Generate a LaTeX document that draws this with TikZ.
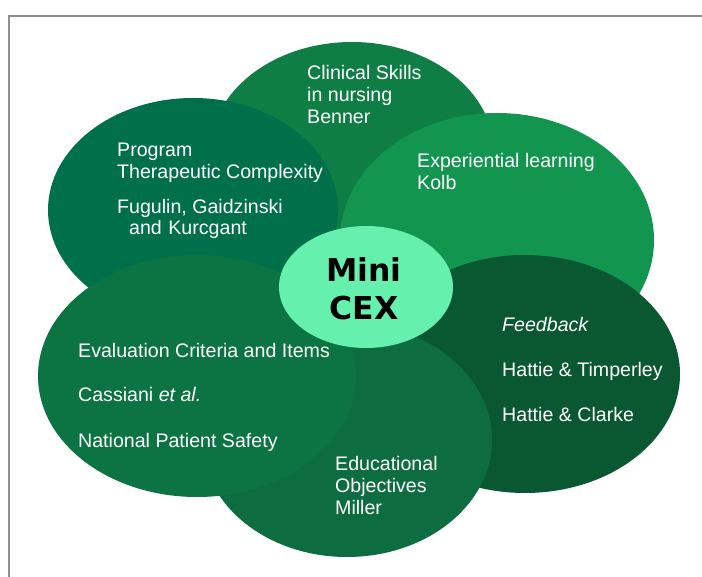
\documentclass[tikz,border=0pt]{standalone}
\usepackage{fontspec}
\setmainfont{Liberation Sans}
\newfontfamily\cexfont{DejaVu Sans}
\usetikzlibrary{shapes.geometric}

\definecolor{clinGreen}{HTML}{0F7E45}
\definecolor{progGreen}{HTML}{00704B}
\definecolor{expGreen}{HTML}{11954F}
\definecolor{fbGreen}{HTML}{0A5832}
\definecolor{eduGreen}{HTML}{0D6D40}
\definecolor{evalGreen}{HTML}{0C7342}
\definecolor{cexGreen}{HTML}{66F0AE}
\definecolor{frameGray}{HTML}{8F8F8F}

\tikzset{
  petal/.style={ellipse, draw=none, inner sep=0pt},
  lbl/.style={anchor=base west, inner sep=0pt, text=white,
              font=\fontsize{19.6}{22}\selectfont},
  cex/.style={anchor=base, inner sep=0pt, text=black,
              font=\cexfont\bfseries\fontsize{31.5}{38}\selectfont}
}

\begin{document}
\begin{tikzpicture}[x=1pt, y=-1pt]
  \useasboundingbox (0,0) rectangle (702,577);

  % open frame (left and top edges)
  \draw[frameGray, line width=2pt] (9,578) -- (9,16) -- (703,16);

  % petals, back to front
  \node[petal, fill=clinGreen, minimum width=284pt, minimum height=220pt] (clin) at (352,152) {};
  \node[petal, fill=progGreen, minimum width=290pt, minimum height=224pt] (prog) at (193,210) {};
  \node[petal, fill=expGreen,  minimum width=314pt, minimum height=254pt] (expl) at (497,240) {};
  \node[petal, fill=fbGreen,   minimum width=310pt, minimum height=238pt] (fdbk) at (525,374) {};
  \node[petal, fill=eduGreen,  minimum width=290pt, minimum height=234pt] (educ) at (347,440) {};
  \node[petal, fill=evalGreen, minimum width=318pt, minimum height=242pt] (eval) at (197,376) {};
  \node[petal, fill=cexGreen,  minimum width=174pt, minimum height=122pt] (core) at (366,287) {};

  % centre label
  \node[cex] (mini) at (364,282) {Mini};
  \node[cex] (cexw) at (364,320) {CEX};

  % clinical skills
  \node[lbl] (c1) at (307,80)  {Clinical Skills};
  \node[lbl] (c2) at (307,102) {in nursing};
  \node[lbl] (c3) at (307,124) {Benner};

  % program
  \node[lbl] (p1) at (117,157) {Program};
  \node[lbl] (p2) at (117,179) {Therapeutic Complexity};
  \node[lbl] (p3) at (117,214) {Fugulin, Gaidzinski};
  \node[lbl] (p4) at (129,235) {and\,\,Kurcgant};

  % experiential learning
  \node[lbl] (e1) at (417,168) {Experiential learning};
  \node[lbl] (e2) at (417,190) {Kolb};

  % feedback
  \node[lbl] (f1) at (502,332) {\itshape Feedback};
  \node[lbl] (f2) at (502,377) {Hattie \& Timperley};
  \node[lbl] (f3) at (502,421) {Hattie \& Clarke};

  % evaluation
  \node[lbl] (v1) at (78,358) {Evaluation Criteria and Items};
  \node[lbl] (v2) at (78,402) {Cassiani \textit{et al.}};
  \node[lbl] (v3) at (78,447) {National Patient Safety};

  % educational objectives
  \node[lbl] (o1) at (335,470) {Educational};
  \node[lbl] (o2) at (335,492) {Objectives};
  \node[lbl] (o3) at (335,514) {Miller};
\end{tikzpicture}
\end{document}
